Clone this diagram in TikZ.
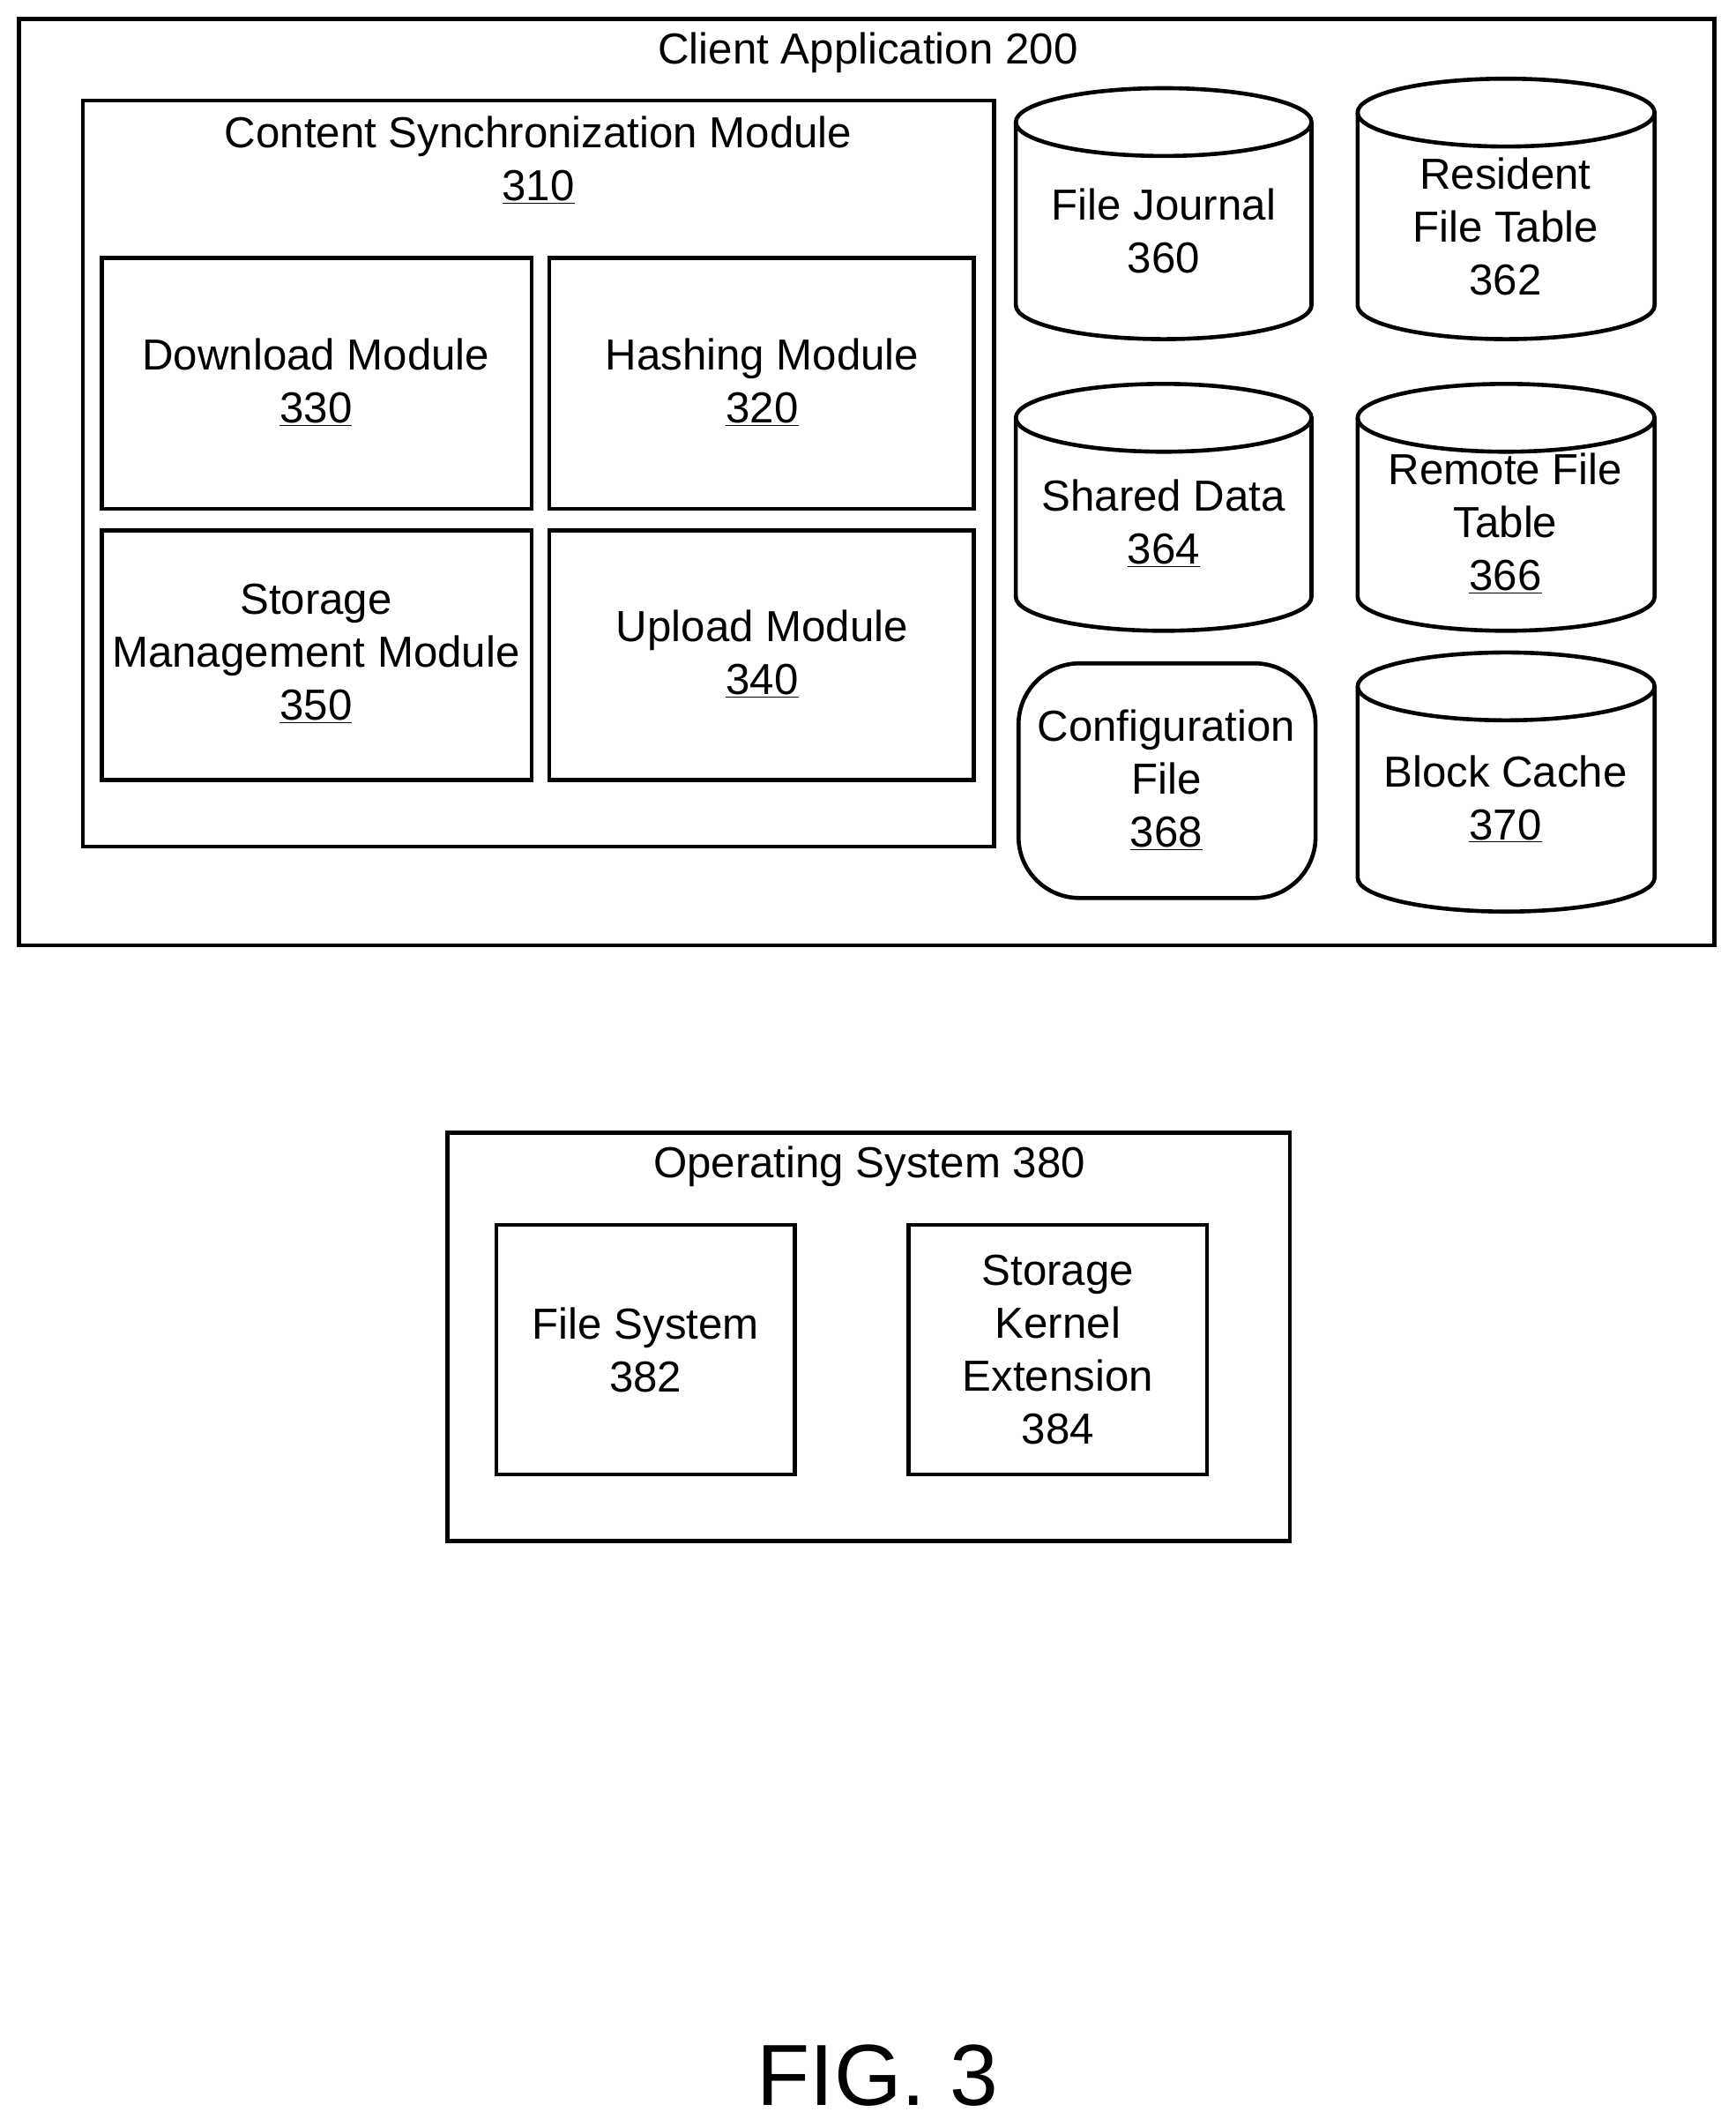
\documentclass[tikz,border=0pt]{standalone}
\usepackage{fontspec}
\setmainfont{Liberation Sans}
\begin{document}
\begin{tikzpicture}[x=1pt,y=-1pt,line width=3pt,
  t/.style={font=\fontsize{32}{39}\selectfont,align=center,inner sep=0pt},
  box/.style={draw=black,line width=3pt}]
\useasboundingbox (0,0) rectangle (1280,1568);
\newcommand{\cyl}[4]{% x1 x2 ytop ybot
  \draw[line width=3pt,fill=white] (#1,#3+25) arc[x radius={(#2-#1)/2},y radius=25,start angle=180,end angle=360] -- (#2,#4-25) arc[x radius={(#2-#1)/2},y radius=25,start angle=0,end angle=180] -- cycle;
  \draw[line width=3pt] (#1,#3+25) arc[x radius={(#2-#1)/2},y radius=25,start angle=180,end angle=0];}
\draw[box] (14,14) rectangle (1264,697);
\node[t] (ca) at (640,39) {Client Application 200};
\draw[box] (61,74) rectangle (733,624);
\node[t] (csm) at (397,118) {Content Synchronization Module\\\underline{310}};
\draw[box] (75,190) rectangle (392,375);
\node[t] (dm) at (233,282) {Download Module\\\underline{330}};
\draw[box] (405,190) rectangle (718,375);
\node[t] (hm) at (562,282) {Hashing Module\\\underline{320}};
\draw[box] (75,391) rectangle (392,575);
\node[t] (sm) at (233,482) {Storage\\Management Module\\\underline{350}};
\draw[box] (405,391) rectangle (718,575);
\node[t] (um) at (562,482) {Upload Module\\\underline{340}};
\cyl{749}{967}{65}{250}
\node[t] (fj) at (858,170) {File Journal\\360};
\cyl{1001}{1220}{58}{250}
\node[t] (rft) at (1110,167) {Resident\\File Table\\362};
\cyl{749}{967}{283}{465}
\node[t] (sd) at (858,386) {Shared Data\\\underline{364}};
\cyl{1001}{1220}{283}{465}
\node[t] (rem) at (1110,386) {Remote File\\Table\\\underline{366}};
\draw[box,rounded corners=45pt] (751,489) rectangle (970,662);
\node[t] (cf) at (860,575) {Configuration\\File\\\underline{368}};
\cyl{1001}{1220}{481}{672}
\node[t] (bc) at (1110,589) {Block Cache\\\underline{370}};
\draw[box] (330,835) rectangle (951,1136);
\node[t] (os) at (641,860) {Operating System 380};
\draw[box] (366,903) rectangle (586,1087);
\node[t] (fs) at (476,995) {File System\\382};
\draw[box] (670,903) rectangle (890,1087);
\node[t] (ske) at (780,995) {Storage\\Kernel\\Extension\\384};
\node[t,font=\fontsize{64}{70}\selectfont] (fig) at (647,1530) {FIG. 3};
\end{tikzpicture}
\end{document}
